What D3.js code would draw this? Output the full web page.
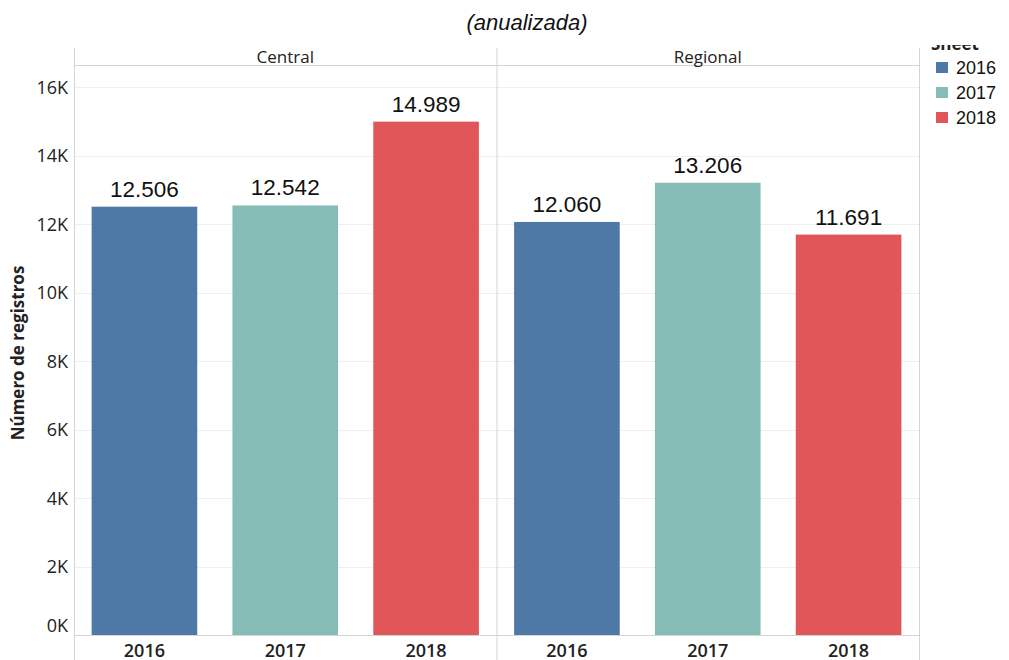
<!DOCTYPE html>
<html>
<head>
<meta charset="utf-8">
<script src="https://cdn.jsdelivr.net/npm/d3@7"></script>
<style>
  body { margin: 0; background: #fff; }
  svg { display: block; }
</style>
</head>
<body>
<div id="chart"></div>
<script>
// data
var panels = ["Central", "Regional"];
var years = ["2016", "2017", "2018"];
var centralValues = [12506, 12542, 14989];
var regionalValues = [12060, 13206, 11691];
var tickValues = [0, 2000, 4000, 6000, 8000, 10000, 12000, 14000, 16000];
var colors = ["#4e79a7", "#86bcb6", "#e15759"];

var width = 1009, height = 660;
var plotLeft = 74, plotRight = 919, headerTop = 48, headerBottom = 65, plotBottom = 635;

var svg = d3.select("#chart").append("svg")
    .attr("width", width).attr("height", height);

var fontTab = "'Open Sans', 'DejaVu Sans', sans-serif";
var fontArial = "'Liberation Sans', Arial, sans-serif";

// title (top part of it is cut off in the source)
svg.append("text")
    .attr("x", 527).attr("y", 30)
    .attr("text-anchor", "middle")
    .style("font-family", fontArial).style("font-style", "italic")
    .style("font-size", "22px").style("fill", "#111")
    .text("(anualizada)");

var y = d3.scaleLinear().domain([0, 16000]).range([plotBottom, plotBottom - 16 * 34.25]);

var panelX = d3.scaleBand().domain(panels).range([plotLeft, plotRight]);
var x = d3.scaleBand().domain(years).range([0, panelX.bandwidth()]).paddingInner(0.25).paddingOuter(0.125);

var data = panels.map(function (p, i) {
    var vals = i === 0 ? centralValues : regionalValues;
    return { panel: p, values: years.map(function (yr, j) { return { year: yr, value: vals[j], color: colors[j] }; }) };
});

// gridlines
svg.append("g").selectAll("line").data(tickValues.slice(1)).enter().append("line")
    .attr("x1", plotLeft).attr("x2", plotRight)
    .attr("y1", function (d) { return Math.round(y(d)) + 0.5; })
    .attr("y2", function (d) { return Math.round(y(d)) + 0.5; })
    .style("stroke", "#efefef").style("stroke-width", 1);

// frame lines
var frame = svg.append("g").style("stroke", "#d4d4d4").style("stroke-width", 1);
frame.append("line").attr("x1", plotLeft + 0.5).attr("x2", plotLeft + 0.5).attr("y1", headerTop).attr("y2", height);
frame.append("line").attr("x1", plotRight + 0.5).attr("x2", plotRight + 0.5).attr("y1", headerTop).attr("y2", height);
frame.append("line").attr("x1", panelX("Regional") + 0.5).attr("x2", panelX("Regional") + 0.5).attr("y1", headerTop).attr("y2", height);
frame.append("line").attr("x1", plotLeft).attr("x2", plotRight).attr("y1", headerBottom + 0.5).attr("y2", headerBottom + 0.5);
frame.append("line").attr("x1", plotLeft).attr("x2", plotRight).attr("y1", plotBottom + 0.5).attr("y2", plotBottom + 0.5);

// panel headers
svg.append("g").selectAll("text").data(panels).enter().append("text")
    .attr("x", function (d) { return panelX(d) + panelX.bandwidth() / 2; })
    .attr("y", 63)
    .attr("text-anchor", "middle")
    .style("font-family", fontTab).style("font-size", "17px").style("fill", "#222")
    .text(function (d) { return d; });

// bars
var panelG = svg.selectAll(".panel").data(data).enter().append("g")
    .attr("class", "panel")
    .attr("transform", function (d) { return "translate(" + panelX(d.panel) + ",0)"; });

panelG.selectAll("rect").data(function (d) { return d.values; }).enter().append("rect")
    .attr("x", function (d) { return x(d.year); })
    .attr("width", x.bandwidth())
    .attr("y", function (d) { return y(d.value); })
    .attr("height", function (d) { return y(0) - y(d.value); })
    .style("fill", function (d) { return d.color; });

panelG.selectAll(".val").data(function (d) { return d.values; }).enter().append("text")
    .attr("class", "val")
    .attr("x", function (d) { return x(d.year) + x.bandwidth() / 2; })
    .attr("y", function (d) { return y(d.value) - 10; })
    .attr("text-anchor", "middle")
    .style("font-family", fontArial).style("font-size", "22.5px").style("fill", "#111")
    .text(function (d) { return d3.format(",")(d.value).replace(/,/g, "."); });

// x labels
panelG.selectAll(".xl").data(function (d) { return d.values; }).enter().append("text")
    .attr("class", "xl")
    .attr("x", function (d) { return x(d.year) + x.bandwidth() / 2; })
    .attr("y", 657)
    .attr("text-anchor", "middle")
    .style("font-family", fontTab).style("font-size", "18px").style("font-weight", "600").style("fill", "#222")
    .text(function (d) { return d.year; });

// y axis
var yAxis = d3.axisLeft(y).tickValues(tickValues).tickSize(0).tickPadding(6)
    .tickFormat(function (d) { return (d / 1000) + "K"; });
var yg = svg.append("g").attr("transform", "translate(" + plotLeft + ",0)").call(yAxis);
yg.select(".domain").remove();
yg.selectAll("text")
    .style("font-family", fontTab).style("font-size", "18px").style("fill", "#222")
    .attr("dy", function (d) { return d === 0 ? "-0.2em" : "0.36em"; });

svg.append("text")
    .attr("transform", "translate(24,353) rotate(-90)")
    .attr("text-anchor", "middle")
    .style("font-family", fontTab).style("font-size", "17px").style("font-weight", "bold").style("fill", "#222")
    .text("Número de registros");

// legend
svg.append("clipPath").attr("id", "legclip").append("rect")
    .attr("x", 920).attr("y", 45).attr("width", 89).attr("height", 20);
svg.append("text")
    .attr("x", 931).attr("y", 50)
    .attr("clip-path", "url(#legclip)")
    .style("font-family", fontTab).style("font-size", "17px").style("font-weight", "bold").style("fill", "#222")
    .text("Sheet");

var leg = svg.append("g").selectAll("g").data(years).enter().append("g")
    .attr("transform", function (d, i) { return "translate(936," + (62 + i * 25) + ")"; });
leg.append("rect").attr("width", 12).attr("height", 11)
    .style("fill", function (d, i) { return colors[i]; });
leg.append("text").attr("x", 20).attr("y", 12)
    .style("font-family", fontArial).style("font-size", "18px").style("fill", "#111")
    .text(function (d) { return d; });
</script>
</body>
</html>
